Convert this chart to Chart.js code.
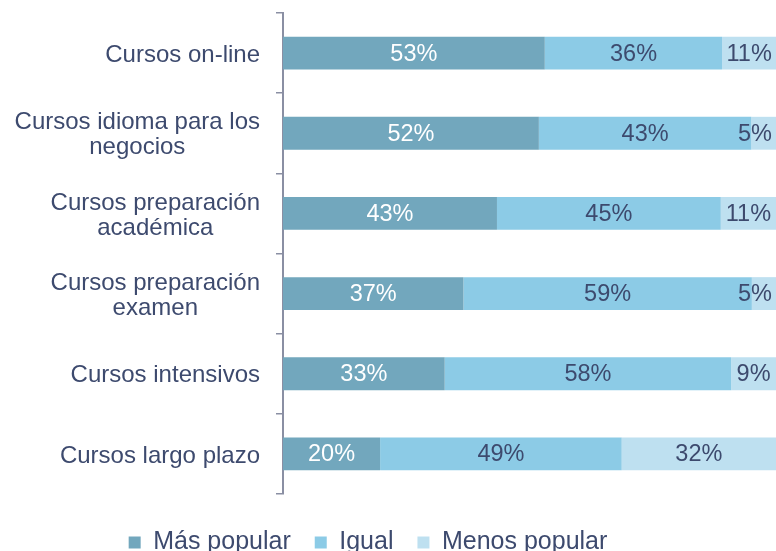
<!DOCTYPE html>
<html>
<head>
<meta charset="utf-8">
<script src="https://cdn.jsdelivr.net/npm/chart.js@4/dist/chart.umd.min.js"></script>
<style>
html,body{margin:0;padding:0;background:#fff;}
#wrap{width:776px;height:551px;position:relative;overflow:hidden;}
</style>
</head>
<body>
<div id="wrap"><canvas id="c" width="776" height="551"></canvas></div>
<script>
const categories = [
  "Cursos on-line",
  ["Cursos idioma para los", "negocios"],
  ["Cursos preparación", "académica"],
  ["Cursos preparación", "examen"],
  "Cursos intensivos",
  "Cursos largo plazo"
];
const masPopular = [53.1, 51.9, 43.4, 36.6, 32.8, 19.7];
const igual = [36.0, 43.1, 45.4, 58.5, 58.1, 49.0];
const menosPopular = [10.9, 5.0, 11.2, 4.9, 9.1, 31.5];
const seriesNames = ["Más popular", "Igual", "Menos popular"];

const textColor = "#3d4a6e";
const fontFamily = "'Liberation Sans', Arial, sans-serif";

// in-bar value labels (kept inside the visible area)
const barLabels = {
  id: 'barLabels',
  afterDatasetsDraw(chart) {
    const ctx = chart.ctx;
    ctx.save();
    ctx.font = "23.5px " + fontFamily;
    ctx.textAlign = 'center';
    ctx.textBaseline = 'middle';
    const visRight = chart.width;
    chart.data.datasets.forEach((ds, di) => {
      const meta = chart.getDatasetMeta(di);
      meta.data.forEach((el, i) => {
        const txt = Math.round(ds.data[i]) + '%';
        const w = ctx.measureText(txt).width;
        const x0 = Math.min(el.base, el.x);
        const x1 = Math.min(Math.max(el.base, el.x), visRight);
        let cx = (x0 + x1) / 2;
        cx = Math.min(cx, visRight - 4 - w / 2);
        ctx.fillStyle = di === 0 ? '#ffffff' : textColor;
        ctx.fillText(txt, cx, el.y + 1);
      });
    });
    ctx.restore();
  }
};

// category labels: block right-aligned, lines centred within block
const catLabels = {
  id: 'catLabels',
  afterDraw(chart) {
    const ctx = chart.ctx;
    const ys = chart.scales.y;
    ctx.save();
    ctx.font = "24px " + fontFamily;
    ctx.fillStyle = textColor;
    ctx.textAlign = 'center';
    ctx.textBaseline = 'middle';
    const rightX = ys.right - 23;
    const lh = 25;
    chart.data.labels.forEach((lab, i) => {
      const lines = Array.isArray(lab) ? lab : [lab];
      const w = Math.max(...lines.map(l => ctx.measureText(l).width));
      const cx = rightX - w / 2;
      const cy = ys.getPixelForValue(i) + 2;
      const y0 = cy - (lines.length - 1) * lh / 2;
      lines.forEach((l, k) => ctx.fillText(l, cx, y0 + k * lh));
    });
    ctx.restore();
  }
};

// move legend to match the reference placement
const legendShift = {
  id: 'legendShift',
  afterLayout(chart) {
    const lg = chart.legend;
    if (!lg) return;
    lg.left -= 22; lg.right -= 22;
    lg.top += 12; lg.bottom += 12;
  }
};

new Chart(document.getElementById('c'), {
  type: 'bar',
  data: {
    labels: categories,
    datasets: [
      { label: seriesNames[0], data: masPopular, backgroundColor: '#72a7bd' },
      { label: seriesNames[1], data: igual, backgroundColor: '#8ccbe6' },
      { label: seriesNames[2], data: menosPopular, backgroundColor: '#bee0f0' }
    ]
  },
  options: {
    indexAxis: 'y',
    responsive: false,
    animation: false,
    devicePixelRatio: 1,
    layout: { padding: { top: 13, right: -4, left: 0, bottom: -2 } },
    datasets: { bar: { barPercentage: 0.82, categoryPercentage: 0.5, borderWidth: 0 } },
    scales: {
      x: { stacked: true, min: 0, max: 100, display: false },
      y: {
        stacked: true,
        afterFit(scale) { scale.width = 283; },
        grid: { display: true, drawOnChartArea: false, drawTicks: true, tickLength: 7, color: '#8a8fa3', lineWidth: 1.5, offset: true },
        border: { display: true, color: '#8a8fa3', width: 2 },
        ticks: { display: false }
      }
    },
    plugins: {
      legend: {
        position: 'bottom',
        labels: {
          color: textColor,
          font: { size: 25, family: fontFamily },
          boxWidth: 12, boxHeight: 12,
          padding: 24
        }
      },
      tooltip: { enabled: false }
    }
  },
  plugins: [barLabels, catLabels, legendShift]
});
</script>
</body>
</html>
